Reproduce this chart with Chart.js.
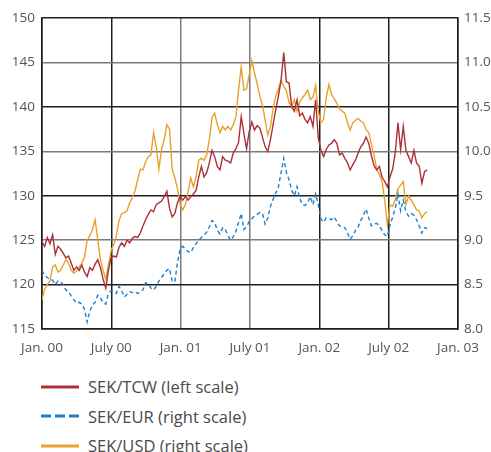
<!DOCTYPE html>
<html>
<head>
<meta charset="utf-8">
<script src="https://cdn.jsdelivr.net/npm/chart.js@4"></script>
<style>
  body { margin: 0; background: #fff; font-family: "Open Sans", sans-serif; }
  #wrap { position: relative; width: 491px; height: 452px; }
  .legend { position: absolute; left: 41px; top: 372px; }
  .row { display: flex; align-items: center; height: 29.5px; font-size: 16.5px; color: #4a4a4a; }
  .row svg { margin-right: 9px; }
</style>
</head>
<body>
<div id="wrap">
  <canvas id="fx-chart" width="491" height="365"></canvas>
  <div class="legend">
    <div class="row"><svg width="38" height="4"><line x1="0" y1="2" x2="38" y2="2" stroke="#ad3036" stroke-width="3"/></svg>SEK/TCW (left scale)</div>
    <div class="row"><svg width="38" height="4"><line x1="0" y1="2" x2="38" y2="2" stroke="#1c7fcf" stroke-width="3" stroke-dasharray="10 4"/></svg>SEK/EUR (right scale)</div>
    <div class="row"><svg width="38" height="4"><line x1="0" y1="2" x2="38" y2="2" stroke="#e8a22a" stroke-width="3"/></svg>SEK/USD (right scale)</div>
  </div>
</div>
<script>
// weekly observations, Jan 2000 - Oct 2002
const tcw = [
  124.8, 124.3, 125.3, 124.6, 125.6, 123.4, 124.3, 124.0, 123.5, 123.0,
  123.2, 122.4, 121.6, 122.0, 121.6, 122.2, 121.4, 120.9, 121.9, 121.6,
  122.3, 122.8, 121.9, 120.6, 119.6, 121.6, 123.0, 123.2, 123.1, 124.2,
  124.7, 124.3, 125.0, 124.7, 125.2, 125.4, 125.3, 125.8, 126.6, 127.3,
  127.9, 128.4, 128.2, 129.0, 129.2, 129.4, 129.9, 130.5, 128.6, 127.6,
  128.0, 129.2, 129.9, 129.5, 129.9, 129.5, 129.9, 130.2, 130.6, 132.1,
  133.3, 132.1, 132.6, 133.7, 135.1, 134.4, 133.3, 132.9, 134.4, 134.0,
  133.9, 133.7, 134.8, 135.3, 136.0, 138.9, 137.0, 135.3, 137.2, 138.3,
  137.4, 137.9, 137.6, 136.6, 135.5, 135.0, 136.3, 138.0, 139.7, 141.2,
  143.0, 146.1, 142.8, 142.7, 140.0, 139.5, 140.8, 139.0, 139.3, 138.6,
  138.2, 138.9, 137.8, 140.8, 136.5, 135.1, 134.4, 135.2, 135.7, 135.9,
  136.3, 135.9, 134.6, 134.8, 134.2, 133.7, 132.9, 133.5, 134.0, 134.8,
  135.5, 135.9, 136.6, 135.9, 134.5, 133.4, 132.9, 133.3, 132.1, 131.6,
  131.0, 132.1, 133.0, 134.9, 138.2, 135.2, 137.8, 135.1, 134.4, 133.7,
  135.1, 133.7, 133.3, 131.4, 132.7, 132.9
];
const eur = [
  8.66, 8.60, 8.58, 8.56, 8.55, 8.50, 8.54, 8.53, 8.50, 8.44,
  8.42, 8.37, 8.33, 8.29, 8.30, 8.28, 8.22, 8.08, 8.20, 8.27,
  8.30, 8.38, 8.35, 8.30, 8.28, 8.40, 8.43, 8.42, 8.40, 8.48,
  8.43, 8.36, 8.39, 8.42, 8.41, 8.42, 8.40, 8.42, 8.44, 8.52,
  8.51, 8.46, 8.44, 8.48, 8.54, 8.58, 8.62, 8.66, 8.68, 8.54,
  8.53, 8.75, 8.90, 8.93, 8.90, 8.87, 8.86, 8.92, 8.96, 9.00,
  9.03, 9.06, 9.09, 9.15, 9.22, 9.20, 9.11, 9.07, 9.14, 9.12,
  9.05, 9.00, 9.04, 9.10, 9.20, 9.30, 9.12, 9.15, 9.21, 9.24,
  9.27, 9.29, 9.31, 9.30, 9.18, 9.25, 9.38, 9.46, 9.53, 9.60,
  9.76, 9.92, 9.76, 9.68, 9.56, 9.50, 9.60, 9.47, 9.40, 9.39,
  9.42, 9.49, 9.40, 9.52, 9.40, 9.24, 9.20, 9.25, 9.24, 9.23,
  9.26, 9.21, 9.16, 9.15, 9.14, 9.08, 9.01, 9.05, 9.11, 9.15,
  9.22, 9.28, 9.35, 9.25, 9.16, 9.18, 9.19, 9.16, 9.11, 9.06,
  9.04, 9.17, 9.26, 9.36, 9.52, 9.33, 9.45, 9.32, 9.27, 9.30,
  9.28, 9.23, 9.16, 9.08, 9.14, 9.13
];
const usd = [
  8.33, 8.45, 8.50, 8.54, 8.70, 8.72, 8.64, 8.66, 8.72, 8.78,
  8.74, 8.66, 8.63, 8.65, 8.70, 8.74, 8.81, 9.00, 9.05, 9.12,
  9.23, 9.00, 8.78, 8.66, 8.56, 8.72, 8.88, 8.95, 9.05, 9.22,
  9.30, 9.31, 9.33, 9.42, 9.48, 9.55, 9.68, 9.80, 9.79, 9.88,
  9.94, 9.96, 10.21, 10.05, 9.80, 10.02, 10.13, 10.30, 10.25, 9.80,
  9.70, 9.58, 9.40, 9.34, 9.40, 9.55, 9.70, 9.60, 9.71, 9.90,
  9.92, 9.90, 9.96, 10.13, 10.38, 10.43, 10.30, 10.21, 10.28, 10.24,
  10.28, 10.24, 10.30, 10.39, 10.70, 10.95, 10.69, 10.70, 10.86, 11.02,
  10.88, 10.76, 10.62, 10.52, 10.35, 10.18, 10.28, 10.48, 10.62, 10.70,
  10.80, 10.73, 10.68, 10.55, 10.50, 10.58, 10.45, 10.55, 10.60, 10.64,
  10.69, 10.58, 10.61, 10.74, 10.45, 10.32, 10.36, 10.60, 10.75, 10.64,
  10.59, 10.54, 10.48, 10.45, 10.43, 10.32, 10.24, 10.32, 10.35, 10.37,
  10.34, 10.32, 10.24, 10.21, 10.08, 9.95, 9.80, 9.74, 9.66, 9.45,
  9.17, 9.40, 9.38, 9.46, 9.58, 9.62, 9.66, 9.40, 9.50, 9.45,
  9.40, 9.34, 9.33, 9.25, 9.30, 9.32
];
const weeks = tcw.map((_, i) => i);

// half-year ticks (in weeks from start of 2000)
const xTicks = [0, 26.1, 52.2, 78.3, 104.4, 130.5, 156.6];
const xTickLabels = ["Jan. 00", "July 00", "Jan. 01", "July 01", "Jan. 02", "July 02", "Jan. 03"];
const xGridDark = [true, true, false, false, true, true, true];
const leftDark = { 115: true, 120: true, 125: false, 130: true, 135: false, 140: true, 145: false, 150: true };

const tickFont = { family: "Open Sans", size: 13.5 };
const tickColor = "#555555";

new Chart(document.getElementById("fx-chart"), {
  type: "line",
  data: {
    labels: weeks,
    datasets: [
      {
        label: "SEK/TCW (left scale)",
        data: tcw,
        yAxisID: "y",
        borderColor: "#ad3036",
        borderWidth: 1.4,
      },
      {
        label: "SEK/EUR (right scale)",
        data: eur,
        yAxisID: "y2",
        borderColor: "#1c7fcf",
        borderWidth: 1.4,
        borderDash: [4, 3],
      },
      {
        label: "SEK/USD (right scale)",
        data: usd,
        yAxisID: "y2",
        borderColor: "#e8a22a",
        borderWidth: 1.4,
      },
    ],
  },
  options: {
    responsive: false,
    animation: false,
    layout: { padding: { top: 18, left: 0, right: 0, bottom: 0 } },
    elements: { point: { radius: 0 }, line: { tension: 0 } },
    plugins: { legend: { display: false }, tooltip: { enabled: false } },
    scales: {
      x: {
        type: "linear",
        min: 0,
        max: 156.6,
        afterBuildTicks: (scale) => {
          scale.ticks = xTicks.map((v) => ({ value: v }));
        },
        afterFit: (scale) => {
          scale.height = 36;
        },
        ticks: {
          padding: 11,
          font: tickFont,
          color: tickColor,
          maxRotation: 0,
          autoSkip: false,
          callback: (v, i) => xTickLabels[i],
        },
        grid: {
          drawTicks: false,
          lineWidth: 1.5,
          color: (ctx) => (xGridDark[ctx.index] ? "#1e1e1e" : "#7a7a7a"),
        },
        border: { color: "#1e1e1e", width: 1.5 },
      },
      y: {
        position: "left",
        min: 115,
        max: 150,
        afterFit: (scale) => {
          scale.width = 42;
        },
        ticks: { stepSize: 5, padding: 7, font: tickFont, color: tickColor },
        grid: {
          drawTicks: false,
          lineWidth: 1.5,
          color: (ctx) => (leftDark[ctx.tick.value] ? "#1e1e1e" : "#7a7a7a"),
        },
        border: { color: "#1e1e1e", width: 1.5 },
      },
      y2: {
        position: "right",
        min: 8.0,
        max: 11.5,
        afterFit: (scale) => {
          scale.width = 33;
        },
        ticks: {
          stepSize: 0.5,
          padding: 6,
          font: tickFont,
          color: tickColor,
          callback: (v) => v.toFixed(1),
        },
        grid: { drawOnChartArea: false, drawTicks: false },
        border: { color: "#1e1e1e", width: 1.5 },
      },
    },
  },
});
</script>
</body>
</html>
